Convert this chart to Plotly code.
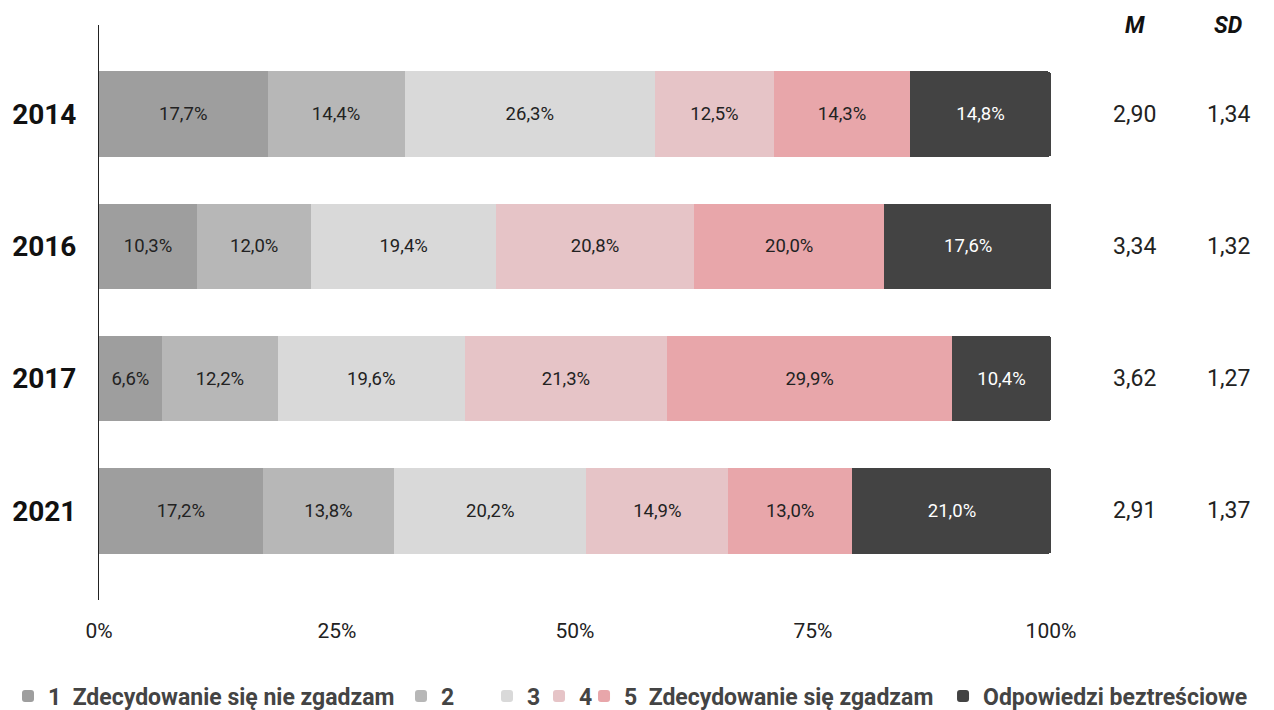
import plotly.graph_objects as go

years = ["2014", "2016", "2017", "2021"]
series_names = ["1  Zdecydowanie się nie zgadzam", "2", "3", "4",
                "5  Zdecydowanie się zgadzam", "Odpowiedzi beztreściowe"]
values = [
    [17.7, 10.3, 6.6, 17.2],
    [14.4, 12.0, 12.2, 13.8],
    [26.3, 19.4, 19.6, 20.2],
    [12.5, 20.8, 21.3, 14.9],
    [14.3, 20.0, 29.9, 13.0],
    [14.8, 17.6, 10.4, 21.0],
]
colors = ["#9e9e9e", "#b7b7b7", "#d9d9d9", "#e6c4c7", "#e8a6aa", "#434343"]
text_colors = ["#222222", "#222222", "#222222", "#222222", "#222222", "#ffffff"]
legend_widths = [348, 41, 7, 13, 314, 268]
legend_ids = ["legend", "legend", "legend", "legend", "legend2", "legend2"]
mean_vals = ["2,90", "3,34", "3,62", "2,91"]
sd_vals = ["1,34", "1,32", "1,27", "1,37"]
x_ticks = [0, 25, 50, 75, 100]
x_tick_labels = ["0%", "25%", "50%", "75%", "100%"]

fig = go.Figure()
for name, vals, col, tcol, lw, lid in zip(series_names, values, colors, text_colors,
                                          legend_widths, legend_ids):
    fig.add_trace(go.Bar(
        y=years, x=vals, name=name, orientation="h",
        marker=dict(color=col, line=dict(width=0)),
        text=[f"{v:.1f}%".replace(".", ",") for v in vals],
        textposition="inside", insidetextanchor="middle",
        textfont=dict(family="Roboto", size=18.5, color=tcol),
        constraintext="none", hoverinfo="skip", legendwidth=lw, legend=lid,
    ))

legend_style = dict(orientation="h", xref="container", yref="container",
                    xanchor="left", y=0.02, yanchor="middle",
                    font=dict(family="Roboto", size=23, color="#444444", weight="bold"),
                    traceorder="normal", itemwidth=30, tracegroupgap=0, borderwidth=0,
                    bgcolor="rgba(0,0,0,0)")

# body has an 8px default margin in the page, so the figure is offset by 8px
fig.update_layout(
    barmode="stack", bargap=0.355, barcornerradius=3,
    width=1266, height=702,
    margin=dict(l=91, r=223, t=17, b=110, autoexpand=False),
    plot_bgcolor="white", paper_bgcolor="white",
    font=dict(family="Roboto", color="#222222"),
    showlegend=True,
    legend=dict(x=-0.0174, **legend_style),
    legend2=dict(x=0.455, **legend_style),
    xaxis=dict(range=[0, 100], tickvals=x_ticks, ticktext=x_tick_labels, showgrid=False,
               zeroline=False, showline=False, ticks="outside", ticklen=12,
               tickcolor="rgba(0,0,0,0)", automargin=False,
               tickfont=dict(family="Roboto", size=21, color="#222222")),
    yaxis=dict(type="category", autorange=False, range=[3.674, -0.674],
               showline=True, linecolor="#222222", linewidth=1, showgrid=False,
               ticks="", ticklabelstandoff=16, automargin=False,
               tickfont=dict(family="Roboto", size=28, color="#111111", weight="bold")),
)

for i, (m, sd) in enumerate(zip(mean_vals, sd_vals)):
    fig.add_annotation(x=1.088, xref="paper", xanchor="center", y=i, yref="y", text=m,
                       showarrow=False, font=dict(family="Roboto", size=23, color="#222222"))
    fig.add_annotation(x=1.186, xref="paper", xanchor="center", y=i, yref="y", text=sd,
                       showarrow=False, font=dict(family="Roboto", size=23, color="#222222"))
fig.add_annotation(x=1.088, xref="paper", xanchor="center", y=1, yref="paper",
                   text="<b><i>M</i></b>", showarrow=False, yanchor="middle",
                   font=dict(family="Roboto", size=23, color="#111111"))
fig.add_annotation(x=1.186, xref="paper", xanchor="center", y=1, yref="paper",
                   text="<b><i>SD</i></b>", showarrow=False, yanchor="middle",
                   font=dict(family="Roboto", size=23, color="#111111"))

fig.write_html("out.html")
